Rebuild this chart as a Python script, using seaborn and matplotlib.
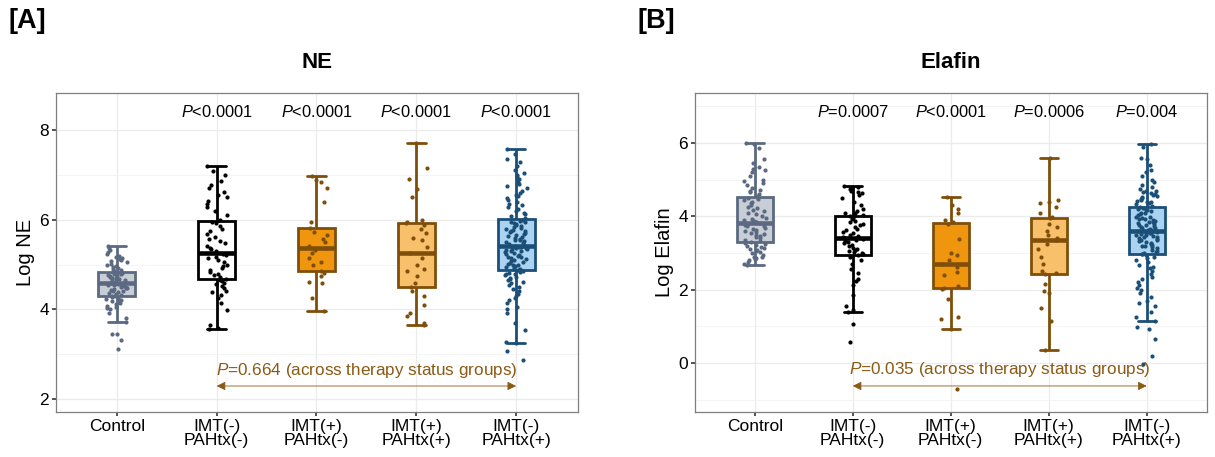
import numpy as np
import pandas as pd
import matplotlib
matplotlib.use("Agg")
import matplotlib.pyplot as plt
import seaborn as sns
from matplotlib.ticker import MultipleLocator

categories = ["Control", "IMT(-)\nPAHtx(-)", "IMT(+)\nPAHtx(-)", "IMT(+)\nPAHtx(+)", "IMT(-)\nPAHtx(+)"]

ne_control = [3.11, 3.31, 3.44, 3.45, 3.71, 3.80, 3.92, 4.00, 4.02, 4.05, 4.08, 4.12, 4.15, 4.18, 4.20, 4.22, 4.24, 4.26, 4.28, 4.29,
              4.30, 4.32, 4.34, 4.36, 4.38, 4.40, 4.42, 4.44, 4.45, 4.47, 4.48, 4.50, 4.51, 4.52, 4.54, 4.55, 4.56, 4.57, 4.58, 4.58,
              4.59, 4.60, 4.62, 4.63, 4.64, 4.66, 4.67, 4.68, 4.70, 4.71, 4.72, 4.74, 4.75, 4.76, 4.78, 4.79, 4.80, 4.82, 4.83, 4.84,
              4.86, 4.88, 4.90, 4.92, 4.95, 4.97, 5.00, 5.02, 5.05, 5.08, 5.10, 5.12, 5.15, 5.18, 5.20, 5.24, 5.28, 5.32, 5.36, 5.41]
ne_imtn_pahn = [3.56, 3.58, 3.65, 3.99, 4.15, 4.25, 4.32, 4.38, 4.42, 4.48, 4.52, 4.56, 4.60, 4.63, 4.66,
                4.68, 4.72, 4.76, 4.80, 4.84, 4.88, 4.92, 4.96, 5.00, 5.05, 5.10, 5.14, 5.18, 5.22, 5.24,
                5.26, 5.30, 5.34, 5.38, 5.42, 5.48, 5.52, 5.58, 5.62, 5.68, 5.74, 5.80, 5.86, 5.92, 5.96,
                6.00, 6.10, 6.20, 6.28, 6.35, 6.42, 6.50, 6.55, 6.62, 6.70, 6.78, 6.86, 7.00, 7.10, 7.20]
ne_imtp_pahn = [3.96, 4.25, 4.60, 4.62, 4.75, 4.82, 4.85, 4.98, 5.05, 5.15, 5.25, 5.32, 5.37,
                5.42, 5.50, 5.58, 5.65, 5.72, 5.81, 5.95, 6.40, 6.72, 6.85, 6.88, 6.97]
ne_imtp_pahp = [3.65, 3.70, 3.85, 3.92, 4.10, 4.30, 4.42, 4.50, 4.60, 4.75, 4.85, 4.90, 5.00, 5.15, 5.25,
                5.40, 5.55, 5.60, 5.70, 5.80, 5.88, 5.92, 5.95, 6.00, 6.50, 6.68, 6.90, 7.15, 7.71]
ne_imtn_pahp = [2.87, 3.07, 3.25, 3.28, 3.55, 3.69, 3.92, 4.00, 4.05, 4.15, 4.20, 4.25, 4.30, 4.35, 4.40, 4.45, 4.50, 4.55, 4.58, 4.62,
                4.65, 4.68, 4.70, 4.73, 4.76, 4.78, 4.80, 4.82, 4.84, 4.86,
                4.88, 4.90, 4.92, 4.94, 4.96, 4.98, 5.00, 5.02, 5.04, 5.06, 5.08, 5.10, 5.12, 5.14, 5.16, 5.18, 5.20, 5.22, 5.24, 5.26,
                5.28, 5.30, 5.31, 5.32, 5.34, 5.35, 5.36, 5.37, 5.39, 5.40,
                5.42, 5.44, 5.46, 5.48, 5.50, 5.52, 5.54, 5.56, 5.58, 5.60, 5.62, 5.64, 5.66, 5.68, 5.70, 5.72, 5.74, 5.76, 5.78, 5.80,
                5.82, 5.84, 5.86, 5.88, 5.90, 5.92, 5.94, 5.96, 5.98, 6.00,
                6.04, 6.08, 6.12, 6.16, 6.20, 6.24, 6.28, 6.32, 6.36, 6.40, 6.44, 6.48, 6.52, 6.56, 6.60, 6.65, 6.70, 6.75, 6.80, 6.85,
                6.90, 6.95, 7.00, 7.05, 7.12, 7.20, 7.28, 7.36, 7.46, 7.58]

el_control = [2.67, 2.70, 2.75, 2.80, 2.82, 2.85, 2.88, 2.90, 2.95, 3.00, 3.02, 3.05, 3.08, 3.10, 3.12, 3.15, 3.18, 3.22, 3.25, 3.28,
              3.30, 3.33, 3.36, 3.40, 3.43, 3.46, 3.50, 3.52, 3.55, 3.58, 3.60, 3.63, 3.66, 3.69, 3.72, 3.74, 3.76, 3.78, 3.80, 3.81,
              3.83, 3.85, 3.88, 3.90, 3.93, 3.96, 4.00, 4.05, 4.10, 4.14, 4.18, 4.22, 4.26, 4.30, 4.35, 4.40, 4.44, 4.47, 4.50, 4.52,
              4.56, 4.60, 4.65, 4.70, 4.72, 4.78, 4.85, 4.90, 4.95, 5.00, 5.10, 5.20, 5.25, 5.30, 5.35, 5.45, 5.55, 5.85, 5.98, 6.00]
el_imtn_pahn = [0.57, 1.06, 1.39, 1.45, 1.55, 1.85, 2.12, 2.22, 2.30, 2.45, 2.55, 2.70, 2.80, 2.88, 2.93,
                2.96, 3.00, 3.03, 3.06, 3.08, 3.10, 3.14, 3.18, 3.22, 3.26, 3.30, 3.33, 3.36, 3.38, 3.40,
                3.42, 3.45, 3.50, 3.55, 3.58, 3.62, 3.66, 3.70, 3.75, 3.80, 3.85, 3.88, 3.92, 3.96, 4.00,
                4.04, 4.08, 4.10, 4.15, 4.20, 4.30, 4.40, 4.50, 4.58, 4.62, 4.66, 4.70, 4.75, 4.80, 4.83]
el_imtp_pahn = [-0.70, 0.93, 1.20, 1.25, 1.75, 2.02, 2.04, 2.10, 2.40, 2.48, 2.62, 2.70,
                2.80, 2.95, 3.00, 3.38, 3.80, 3.84, 3.90, 4.10, 4.20, 4.30, 4.53]
el_imtp_pahp = [0.35, 1.15, 1.50, 1.90, 1.95, 2.15, 2.42, 2.44, 2.50, 2.70, 2.90, 3.10, 3.25, 3.34,
                3.40, 3.50, 3.60, 3.70, 3.80, 3.95, 3.97, 4.10, 4.25, 4.35, 4.40, 4.45, 5.60]
el_imtn_pahp = [-0.03, 0.19, 0.66, 0.93, 0.98, 1.15, 1.25, 1.40, 1.55, 1.62, 1.70, 1.80, 1.90, 2.00, 2.05,
                2.12, 2.20, 2.28, 2.35, 2.42, 2.50, 2.58, 2.62, 2.68, 2.74, 2.80, 2.85, 2.90, 2.93, 2.96,
                2.98, 3.00, 3.03, 3.06, 3.09, 3.12, 3.15, 3.18, 3.20, 3.22, 3.25, 3.28, 3.30, 3.32, 3.34,
                3.36, 3.38, 3.40, 3.42, 3.44, 3.46, 3.48, 3.50, 3.52, 3.53, 3.54, 3.55, 3.56, 3.58, 3.59,
                3.61, 3.63, 3.65, 3.67, 3.69, 3.71, 3.73, 3.75, 3.77, 3.79, 3.81, 3.83, 3.85, 3.87, 3.89,
                3.91, 3.93, 3.95, 3.97, 3.99, 4.02, 4.05, 4.08, 4.10, 4.13, 4.16, 4.18, 4.20, 4.22, 4.24,
                4.28, 4.32, 4.35, 4.38, 4.40, 4.42, 4.45, 4.48, 4.50, 4.52, 4.55, 4.58, 4.60, 4.62, 4.65,
                4.68, 4.70, 4.75, 4.80, 4.85, 4.92, 5.00, 5.10, 5.20, 5.25, 5.40, 5.55, 5.60, 5.90, 5.97]

ne_groups = [ne_control, ne_imtn_pahn, ne_imtp_pahn, ne_imtp_pahp, ne_imtn_pahp]
el_groups = [el_control, el_imtn_pahn, el_imtp_pahn, el_imtp_pahp, el_imtn_pahp]

ne_pvals = ["<0.0001", "<0.0001", "<0.0001", "<0.0001"]
el_pvals = ["=0.0007", "<0.0001", "=0.0006", "=0.004"]
ne_across = "=0.664"
el_across = "=0.035"

fills = ["#c9ced6", "#ffffff", "#f0960e", "#f9c06c", "#a9d3f0"]
edges = ["#5b6a82", "#000000", "#7f4f0a", "#7f4f0a", "#1c4f78"]
brown = "#8b5a14"

sns.set_style("white")
plt.rcParams["font.family"] = ["Liberation Sans", "DejaVu Sans"]
plt.rcParams["mathtext.fontset"] = "custom"
plt.rcParams["mathtext.rm"] = "Liberation Sans"
plt.rcParams["mathtext.it"] = "Liberation Sans:italic"
for k in ["text.color", "axes.labelcolor", "xtick.color", "ytick.color"]:
    plt.rcParams[k] = "black"

np.random.seed(3)

fig = plt.figure(figsize=(12.15, 4.57), dpi=100)
axA = fig.add_axes([0.0461, 0.0985, 0.4296, 0.698])
axB = fig.add_axes([0.572, 0.0985, 0.4218, 0.698])


def make_df(groups):
    rows = []
    for cat, vals in zip(categories, groups):
        for v in vals:
            rows.append((cat, v))
    return pd.DataFrame(rows, columns=["group", "value"])


def draw(ax, groups, ylim, major, pvals, ptext_y, across, arrow_y, across_y, ylabel, title):
    df = make_df(groups)
    for i, cat in enumerate(categories):
        sub = df[df["group"] == cat]
        sns.boxplot(data=sub, x="group", y="value", order=categories, color=fills[i],
                    linecolor=edges[i], width=0.37, linewidth=2.0, fliersize=0,
                    saturation=1, whis=1.5, ax=ax,
                    medianprops=dict(linewidth=3.3, color=edges[i]))
    for i, cat in enumerate(categories):
        sub = df[df["group"] == cat]
        sns.stripplot(data=sub, x="group", y="value", order=categories, color=edges[i],
                      size=3.0, jitter=0.11, linewidth=0, ax=ax, zorder=5)
    ax.set_xlim(-0.61, 4.62)
    ax.set_ylim(*ylim)
    ax.yaxis.set_major_locator(MultipleLocator(major))
    ax.yaxis.set_minor_locator(MultipleLocator(major / 2))
    ax.set_xticks(range(len(categories)))
    ax.set_xticklabels(categories, fontsize=12.5, linespacing=0.95)
    ax.tick_params(axis="y", labelsize=12.5)
    ax.tick_params(axis="both", which="major", length=3, width=1.1, color="#222222",
                   bottom=True, left=True, pad=2, labelcolor="black")
    ax.tick_params(axis="both", which="minor", length=0)
    ax.grid(True, which="major", color="#ebebeb", linewidth=0.9, zorder=0)
    ax.grid(True, which="minor", axis="y", color="#f2f2f2", linewidth=0.6, zorder=0)
    ax.set_axisbelow(True)
    for s in ax.spines.values():
        s.set_color("#7f7f7f")
        s.set_linewidth(0.9)
    ax.set_xlabel("")
    ax.set_ylabel(ylabel, fontsize=14.5, labelpad=3, color="black")
    for j, p in enumerate(pvals):
        ax.text(j + 1, ptext_y, r"$\mathit{P}$" + p, ha="center", va="center", fontsize=11.8, color="black")
    ax.annotate("", xy=(1, arrow_y), xytext=(4, arrow_y),
                arrowprops=dict(arrowstyle="<|-|>", color=brown, lw=0.6,
                                mutation_scale=13, shrinkA=0, shrinkB=0), zorder=4)
    ax.text(2.5, across_y, r"$\mathit{P}$" + across + " (across therapy status groups)",
            ha="center", va="center", fontsize=12.3, color=brown)
    pos = ax.get_position()
    fig.text((pos.x0 + pos.x1) / 2, 0.864, title, ha="center", va="center",
             fontsize=16, fontweight="bold", color="black")


draw(axA, ne_groups, (1.71, 8.83), 2, ne_pvals, 8.4, ne_across, 2.29, 2.64, "Log NE", "NE")
draw(axB, el_groups, (-1.34, 7.36), 2, el_pvals, 6.85, el_across, -0.63, -0.19, "Log Elafin", "Elafin")

fig.text(0.007, 0.955, "[A]", fontsize=19.5, fontweight="bold", ha="left", va="center", color="black")
fig.text(0.525, 0.955, "[B]", fontsize=19.5, fontweight="bold", ha="left", va="center", color="black")

fig.savefig("out.png", dpi=100)
